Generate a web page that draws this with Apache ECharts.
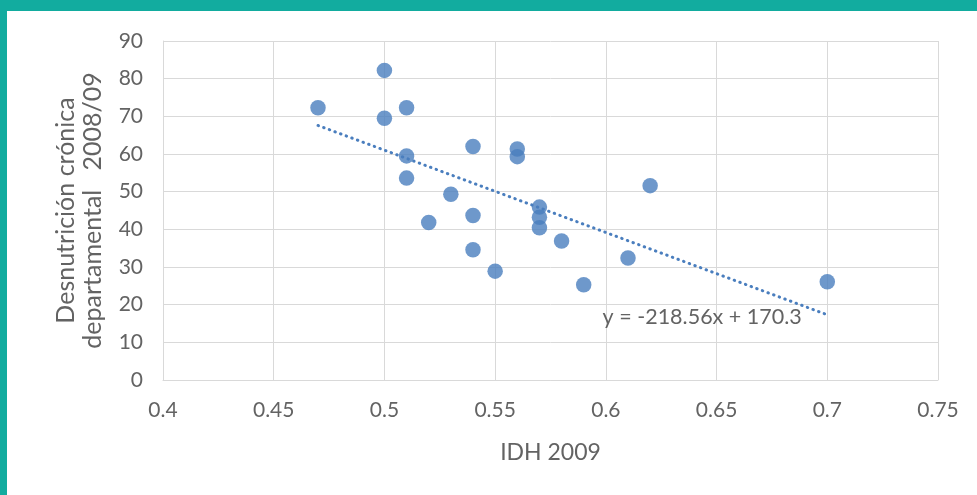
<!DOCTYPE html>
<html><head><meta charset="utf-8">
<script src="https://cdn.jsdelivr.net/npm/echarts@6/dist/echarts.min.js"></script>
<style>
html,body{margin:0;padding:0;width:977px;height:495px;background:#12AC9F;overflow:hidden}
#c{position:absolute;left:7px;top:11px;width:970px;height:484px;background:#fff}
</style></head><body><div id="c"></div>
<script>
const idh = [0.47,0.50,0.50,0.51,0.51,0.51,0.52,0.53,0.54,0.54,0.54,0.55,0.56,0.56,0.57,0.57,0.57,0.58,0.59,0.61,0.62,0.70];
const desnutricion = [72.3,82.2,69.5,72.3,59.5,53.6,41.8,49.3,62.0,43.7,34.6,28.9,61.3,59.3,45.9,43.2,40.4,36.9,25.3,32.4,51.6,26.1];
const slope = -218.56, intercept = 170.3;
const trendX = [0.47, 0.70];
const xTicks = ['0.4','0.45','0.5','0.55','0.6','0.65','0.7','0.75'];
const equationText = 'y = -218.56x + 170.3';
const equationAt = [0.6435, 16.6];

const pts = idh.map((x,i)=>[x, desnutricion[i]]);
const trend = trendX.map(x=>[x, slope*x+intercept]);
const font = 'Lato, "Open Sans", sans-serif';
const txt = '#636363';
const chart = echarts.init(document.getElementById('c'));
chart.setOption({
  animation:false,
  grid:{left:156, right:39, top:30, bottom:115},
  xAxis:{type:'value', min:0.4, max:0.75, interval:0.05,
    name:'IDH 2009', nameLocation:'middle', nameGap:61,
    nameTextStyle:{color:txt, fontSize:23, fontFamily:font},
    axisLine:{show:true, lineStyle:{color:'#D9D9D9'}}, axisTick:{show:false},
    axisLabel:{color:txt, fontSize:21, fontFamily:font, margin:20,
      formatter:v=>xTicks[Math.round((v-0.4)/0.05)]},
    splitLine:{show:true, lineStyle:{color:'#D9D9D9', width:1}}},
  yAxis:{type:'value', min:0, max:90, interval:10,
    name:'Desnutrición crónica\ndepartamental   2008/09', nameLocation:'middle', nameGap:57,
    nameTextStyle:{color:txt, fontSize:25, fontFamily:font, lineHeight:27},
    axisLine:{show:true, lineStyle:{color:'#D9D9D9'}}, axisTick:{show:false},
    axisLabel:{color:txt, fontSize:21, fontFamily:font, margin:20},
    splitLine:{show:true, lineStyle:{color:'#D9D9D9', width:1}}},
  series:[
    {type:'line', data:trend, showSymbol:false, symbol:'none', z:1,
      lineStyle:{color:'#4A7EBE', width:3, type:[0.5,5.5], cap:'round'},
      markPoint:{symbol:'circle', symbolSize:0, data:[{coord:equationAt}],
        label:{show:true, position:'inside', formatter:equationText,
          color:txt, fontSize:21.5, fontFamily:font}}},
    {type:'scatter', data:pts, symbolSize:15.5, z:2,
      itemStyle:{color:'#4A7EBE'}}
  ]
});
</script></body></html>
